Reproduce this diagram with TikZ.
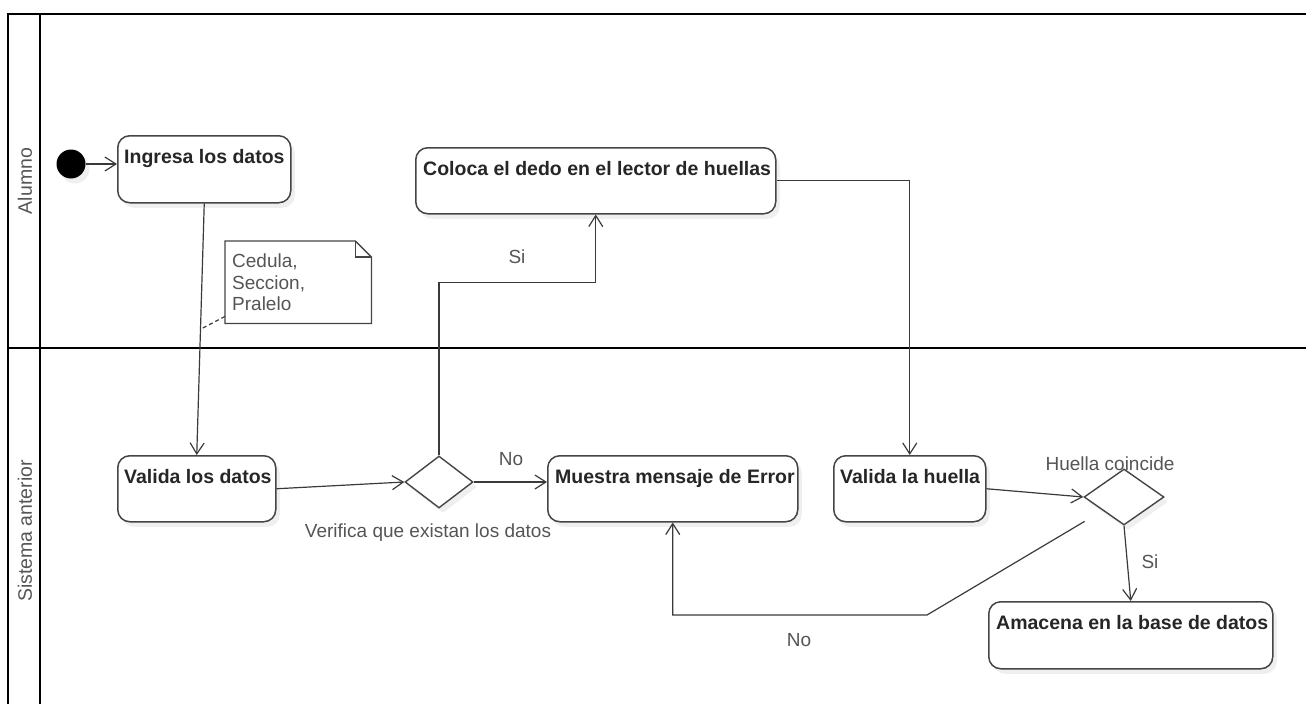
\documentclass[tikz,border=0pt]{standalone}
\usepackage{fontspec}
\setmainfont{Liberation Sans}
\usetikzlibrary{arrows.meta,shapes.geometric,shadows,calc}
\definecolor{boxc}{HTML}{454545}
\definecolor{txtc}{HTML}{262626}
\definecolor{lblc}{HTML}{555555}
\definecolor{linec}{HTML}{3A3A3A}
\begin{document}
\begin{tikzpicture}[x=1pt,y=-1pt,
  shd/.style={drop shadow={shadow xshift=4pt,shadow yshift=-5pt,opacity=0.13}},
  act/.style={draw=boxc,line width=1.5pt,rounded corners=12pt,fill=white,anchor=north west,inner sep=0pt,shd},
  acttext/.style={anchor=north west,inner sep=0pt,xshift=7pt,yshift=-14pt,font=\fontsize{19.5}{22}\selectfont\bfseries,text=txtc},
  dec/.style={diamond,draw=boxc,line width=1.4pt,fill=white,inner sep=0pt,shd},
  lbl/.style={inner sep=0pt,font=\fontsize{19}{22}\selectfont,text=lblc},
  lane/.style={line width=2.6pt,black},
  flow/.style={draw=linec,line width=1.2pt,-{Straight Barb[length=11pt,width=14pt,line width=1.2pt]}},
  plain/.style={draw=linec,line width=1.2pt}]
\useasboundingbox (0,0) rectangle (1306,704);
% swimlanes
\draw[lane] (1306,14) -- (8,14) -- (8,704);
\draw[lane] (40,14) -- (40,704);
\draw[lane] (8,348) -- (1306,348);
\node[lbl,rotate=90,font=\fontsize{19.5}{22}\selectfont] (laneA) at (25,181) {Alumno};
\node[lbl,rotate=90,font=\fontsize{19.5}{22}\selectfont] (laneB) at (25,531) {Sistema anterior};
% nodes
\node[circle,fill=black,minimum size=29pt,inner sep=0pt,shd] (init) at (71,164) {};
\node[act,minimum width=173pt,minimum height=67pt,label={[acttext]north west:Ingresa los datos}] (ingresa) at (117,135) {};
\node[act,minimum width=360pt,minimum height=66pt,label={[acttext,xshift=1pt]north west:Coloca el dedo en el lector de huellas}] (coloca) at (415,147) {};
\node[act,minimum width=158pt,minimum height=66pt,label={[acttext]north west:Valida los datos}] (vdatos) at (117,455) {};
\node[dec,minimum width=68pt,minimum height=52pt] (d1) at (439,482) {};
\node[act,minimum width=250pt,minimum height=66pt,label={[acttext,xshift=1pt]north west:Muestra mensaje de Error}] (error) at (547,455) {};
\node[act,minimum width=152pt,minimum height=66pt,label={[acttext]north west:Valida la huella}] (vhuella) at (833,455) {};
\node[dec,minimum width=80pt,minimum height=56pt] (d2) at (1124,497) {};
\node[act,minimum width=284pt,minimum height=67pt,label={[acttext,xshift=1pt]north west:Amacena en la base de datos}] (almacena) at (988,601) {};
% note
\node[draw=none,minimum width=146pt,minimum height=82pt,anchor=north west,inner sep=0pt] (note) at (225,241) {};
\draw[boxc,line width=1.3pt,fill=white] (note.north west) -- ($(note.north east)+(-16,0)$) -- ($(note.north east)+(0,16)$) -- (note.south east) -- (note.south west) -- cycle;
\draw[boxc,line width=1.2pt] ($(note.north east)+(-16,0)$) -- ($(note.north east)+(-16,16)$) -- ($(note.north east)+(0,16)$);
\node[lbl,anchor=north west,align=left,font=\fontsize{19}{21.5}\selectfont] (notetext) at (232,254) {Cedula,\\Seccion,\\Pralelo};
% connectors
\draw[flow] (init) -- (init -| ingresa.west);
\draw[flow] (ingresa.south) -- coordinate[pos=0.5] (att) (vdatos.north);
\draw[plain,dashed,dash pattern=on 4pt off 3pt] ($(note.south west)+(0,-7)$) -- (att);
\draw[flow] (vdatos.east) -- (d1.west);
\draw[flow] (d1.north) -- ++(0,-173) -| (coloca.south);
\draw[flow] (d1.east) -- (d1.east -| error.west);
\draw[flow] (coloca.east) -| (vhuella.north);
\draw[flow] (vhuella.east) -- (d2.west);
\draw[flow] (d2.south) -- (almacena.north);
\coordinate (k1) at (927,615);
\draw[flow] ($(d2.south west)+(-19,10)$) -- (k1) -| (error.south);
% labels
\node[lbl] (si1) at (517,257) {Si};
\node[lbl] (no1) at (511,459) {No};
\node[lbl] (verif) at (428,533) {Verifica que existan los datos};
\node[lbl] (hc) at (1110,464) {Huella coincide};
\node[lbl] (si2) at (1150,562) {Si};
\node[lbl] (no2) at (799,640) {No};
\end{tikzpicture}
\end{document}
